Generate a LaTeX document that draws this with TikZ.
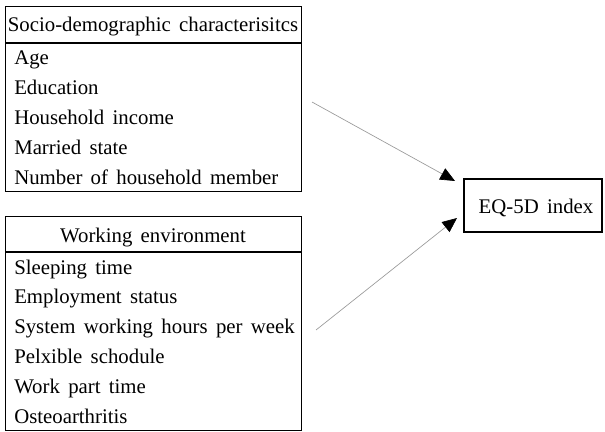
\documentclass[tikz,border=0pt]{standalone}
\usepackage{fontspec}
\setmainfont{Liberation Serif}
\usetikzlibrary{arrows.meta}
\newcommand\myTxtFont{\fontsize{15.6}{18}\selectfont\spaceskip=0.4em plus 0.1em\relax}
\begin{document}
\begin{tikzpicture}[x=0.75pt,y=-0.75pt,
  txt/.style={inner sep=0pt, font=\myTxtFont},
  item/.style={txt, anchor=base west},
  head/.style={txt, anchor=base},
  frame/.style={draw, line width=0.9pt, inner sep=0pt, anchor=north west},
  conn/.style={draw=black!40, line width=0.5pt, -{Triangle[black,length=11pt,width=9.5pt]}}]
\useasboundingbox (0,0) rectangle (605,431);
% box 1
\node[frame, minimum width=222pt, minimum height=138.75pt] (sd) at (5,6) {};
\draw[line width=0.9pt] (5,43) -- (301,43);
\node[head] (h1) at (153,32) {Socio-demographic characterisitcs};
\node[item] (a1) at (14,65) {Age};
\node[item] (a2) at (14,95) {Education};
\node[item] (a3) at (14,124) {Household income};
\node[item] (a4) at (14,154) {Married state};
\node[item] (a5) at (14,184) {Number of household member};
% box 2
\node[frame, minimum width=222pt, minimum height=160.5pt] (we) at (5,216) {};
\draw[line width=0.9pt] (5,252) -- (301,252);
\node[head] (h2) at (153,242) {Working environment};
\node[item] (b1) at (14,274) {Sleeping time};
\node[item] (b2) at (14,303) {Employment status};
\node[item] (b3) at (14,333) {System working hours per week};
\node[item] (b4) at (14,363) {Pelxible schodule};
\node[item] (b5) at (14,393) {Work part time};
\node[item] (b6) at (14,423) {Osteoarthritis};
% outcome
\node[draw, line width=0.9pt, inner sep=0pt, minimum width=103.5pt, minimum height=39.75pt] (eq) at (533,205.5) {};
\node[head] (eqt) at (536,213) {EQ-5D index};
% connectors
\coordinate (s1) at (312,102);
\coordinate (t1) at (455,181);
\coordinate (s2) at (316,330);
\coordinate (t2) at (457,218);
\draw[conn] (s1) -- (t1);
\draw[conn] (s2) -- (t2);
\end{tikzpicture}
\end{document}
